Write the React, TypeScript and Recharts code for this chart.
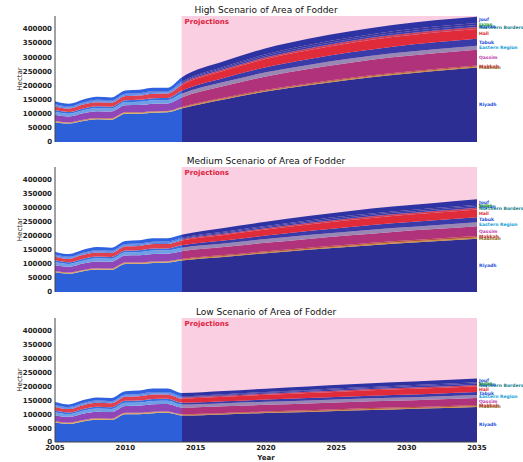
import React from 'react'
import { AreaChart, Area, XAxis, YAxis, ReferenceArea, ReferenceDot } from 'recharts'

const histYears = [2005, 2006, 2007, 2008, 2009, 2010, 2011, 2012, 2013]
const projYears = [2014, 2017, 2020, 2023, 2026, 2029, 2032, 2035]
const projectionStart = 2014
const xTicks = [2005, 2010, 2015, 2020, 2025, 2030, 2035]
const yTicks = [0, 50000, 100000, 150000, 200000, 250000, 300000, 350000, 400000]

// bottom of the stack first
const regions = ['Riyadh', 'Madinah', 'Makkah', 'Qassim', 'Eastern Region', 'Tabuk', 'Hail', 'Northern Borders', 'Najran', 'Jazan', 'Jouf']

const history: Record<string, number[]> = {
  Riyadh: [70000, 65000, 74000, 80000, 79000, 100000, 100000, 103500, 104700],
  Madinah: [2200, 2100, 2300, 2400, 2400, 2500, 2500, 2600, 2600],
  Makkah: [2200, 2100, 2300, 2400, 2300, 2500, 2500, 2600, 2600],
  Qassim: [22000, 21000, 23000, 24000, 23600, 24600, 25400, 26500, 26100],
  'Eastern Region': [10300, 9800, 10700, 11200, 11000, 11500, 11800, 12300, 12200],
  Tabuk: [5900, 5600, 6100, 6400, 6300, 6600, 6800, 7100, 7000],
  Hail: [13200, 12600, 13800, 14400, 14100, 14800, 15200, 15900, 15700],
  'Northern Borders': [2900, 2800, 3100, 3200, 3100, 3300, 3400, 3500, 3500],
  Najran: [2200, 2100, 2300, 2400, 2400, 2400, 2500, 2600, 2600],
  Jazan: [2200, 2100, 2300, 2400, 2400, 2400, 2500, 2600, 2600],
  Jouf: [10400, 9800, 10600, 11200, 11000, 11400, 12000, 12500, 12100],
}

const highProjection: Record<string, number[]> = {
  Riyadh: [118000, 150000, 178000, 200000, 220000, 237000, 251000, 263000],
  Madinah: [3000, 3200, 3300, 3400, 3400, 3500, 3500, 3500],
  Makkah: [3000, 3200, 3300, 3400, 3400, 3500, 3500, 3500],
  Qassim: [33000, 41000, 47000, 51000, 53500, 55000, 55800, 56000],
  'Eastern Region': [13500, 14500, 14500, 14300, 14200, 14100, 14000, 14000],
  Tabuk: [10500, 14500, 18000, 20500, 22300, 23500, 24200, 24500],
  Hail: [20000, 25000, 29000, 31500, 33000, 34000, 34800, 35000],
  'Northern Borders': [4400, 5300, 6000, 6400, 6700, 6900, 7000, 7000],
  Najran: [3600, 4600, 5500, 6100, 6500, 6800, 7000, 7000],
  Jazan: [3600, 4600, 5500, 6100, 6500, 6800, 7000, 7000],
  Jouf: [15400, 19100, 21000, 21800, 22000, 22100, 22200, 22200],
}

const mediumProjection: Record<string, number[]> = {
  Riyadh: [112000, 125000, 138000, 150000, 161000, 172000, 181000, 190000],
  Madinah: [2800, 3000, 3300, 3500, 3700, 3800, 3900, 4000],
  Makkah: [2900, 3300, 3700, 4100, 4400, 4600, 4800, 5000],
  Qassim: [27000, 28500, 30000, 31500, 32800, 33600, 34300, 35000],
  'Eastern Region': [12800, 13000, 13300, 13500, 13700, 13800, 13900, 14000],
  Tabuk: [8500, 10500, 12500, 14200, 15700, 16600, 17300, 18000],
  Hail: [17000, 19500, 21500, 23500, 25300, 26300, 27200, 28000],
  'Northern Borders': [3800, 4300, 4800, 5200, 5500, 5700, 5900, 6000],
  Najran: [3000, 3700, 4300, 4900, 5300, 5600, 5800, 6000],
  Jazan: [2900, 3400, 3900, 4300, 4600, 4800, 4900, 5000],
  Jouf: [11300, 13800, 14700, 15500, 16300, 17200, 18100, 19000],
}

const lowProjection: Record<string, number[]> = {
  Riyadh: [95000, 99000, 104000, 108000, 113000, 117000, 121000, 126000],
  Madinah: [2400, 2500, 2600, 2700, 2800, 2900, 3000, 3000],
  Makkah: [2500, 2700, 2900, 3200, 3400, 3600, 3800, 4000],
  Qassim: [23500, 23800, 24000, 24300, 24500, 24700, 24900, 25000],
  'Eastern Region': [11000, 11000, 11000, 10900, 10800, 10700, 10600, 10500],
  Tabuk: [6800, 7400, 8000, 8700, 9200, 9700, 10100, 10500],
  Hail: [15000, 15800, 16700, 17800, 18700, 19700, 20400, 21000],
  'Northern Borders': [3400, 3700, 4000, 4300, 4500, 4700, 4900, 5000],
  Najran: [2700, 3000, 3400, 3800, 4200, 4600, 4800, 5000],
  Jazan: [2500, 2800, 3000, 3300, 3500, 3700, 3900, 4000],
  Jouf: [11200, 11400, 11700, 12100, 12600, 13100, 13600, 14000],
}

const histColors: Record<string, string> = {
  Riyadh: '#2d5fd9',
  Madinah: '#d8a848',
  Makkah: '#c8703c',
  Qassim: '#9046b6',
  'Eastern Region': '#6fa0e6',
  Tabuk: '#3a6ee0',
  Hail: '#e0404e',
  'Northern Borders': '#5a82dc',
  Najran: '#4070e0',
  Jazan: '#3a68dc',
  Jouf: '#2f62e0',
}

const projColors: Record<string, string> = {
  Riyadh: '#2c2e94',
  Madinah: '#c89040',
  Makkah: '#b8523a',
  Qassim: '#b0327a',
  'Eastern Region': '#9a88b4',
  Tabuk: '#3a3aa8',
  Hail: '#e02c3a',
  'Northern Borders': '#c8405c',
  Najran: '#3c3cac',
  Jazan: '#34369e',
  Jouf: '#2e33a4',
}

const labelColors: Record<string, string> = {
  Riyadh: '#1f4fd8',
  Madinah: '#8a6a20',
  Makkah: '#c03a3a',
  Qassim: '#c040b0',
  'Eastern Region': '#17a0d8',
  Tabuk: '#1f4fd8',
  Hail: '#e02020',
  'Northern Borders': '#1a7f8a',
  Najran: '#2050c0',
  Jazan: '#2ca02c',
  Jouf: '#1f4fd8',
}

function buildRows(projection: Record<string, number[]>) {
  const rows: any[] = []
  histYears.forEach((year, i) => {
    const row: any = { year }
    regions.forEach((r) => (row[r] = history[r][i]))
    rows.push(row)
  })
  projYears.forEach((year, i) => {
    const row: any = { year }
    regions.forEach((r) => (row[r] = projection[r][i]))
    rows.push(row)
  })
  return rows
}

interface ScenarioChartProps {
  id: string
  title: string
  projection: Record<string, number[]>
  top: number
  height: number
  bottom: number
  showYears: boolean
}

function ScenarioChart({ id, title, projection, top, height, bottom, showYears }: ScenarioChartProps) {
  const data = buildRows(projection)
  const last = data[data.length - 1]
  const split = (projectionStart - xTicks[0]) / (xTicks[xTicks.length - 1] - xTicks[0])

  // label each layer in the middle of its 2035 band
  let cum = 0
  const labels = regions.map((r) => {
    const mid = cum + last[r] / 2
    cum += last[r]
    return { r, mid }
  })

  const plotTop = 16

  return (
    <div style={{ position: 'absolute', left: 0, top, width: 523, height }}>
      <div
        style={{
          position: 'absolute',
          left: 55,
          width: 422,
          top: plotTop - 11,
          height: 10,
          lineHeight: '10px',
          textAlign: 'center',
          fontSize: 9,
          color: '#111',
        }}
      >
        {title}
      </div>
      <AreaChart width={523} height={height} data={data} margin={{ top: plotTop, right: 46, left: 0, bottom }}>
        <defs>
          {regions.map((r, i) => (
            <linearGradient key={r} id={`${id}-g${i}`} x1="0" y1="0" x2="1" y2="0">
              <stop offset={split} stopColor={histColors[r]} />
              <stop offset={split} stopColor={projColors[r]} />
            </linearGradient>
          ))}
        </defs>
        <XAxis
          dataKey="year"
          type="number"
          domain={[2005, 2035]}
          ticks={xTicks}
          height={showYears ? 20 : 0}
          tick={showYears ? { fontSize: 7, fontWeight: 'bold', fill: '#222' } : false}
          tickSize={0}
          tickMargin={3}
          axisLine={{ stroke: '#444' }}
          label={showYears ? { value: 'Year', position: 'insideBottom', offset: 2, fontSize: 7, fontWeight: 'bold', fill: '#222' } : undefined}
        />
        <XAxis xAxisId="t" orientation="top" type="number" domain={[2005, 2035]} height={0} tick={false} tickLine={false} axisLine={{ stroke: '#888' }} />
        <YAxis
          type="number"
          domain={[0, 445000]}
          ticks={yTicks}
          width={55}
          tickSize={0}
          tickMargin={3}
          tick={{ fontSize: 7, fontWeight: 'bold', fill: '#222' }}
          axisLine={{ stroke: '#444' }}
          allowDataOverflow
          label={{ value: 'Hectar', angle: -90, position: 'center', dx: -8, fontSize: 7, fill: '#222' }}
        />
        <YAxis yAxisId="r" orientation="right" width={0} tick={false} tickLine={false} axisLine={{ stroke: '#666' }} />
        <ReferenceArea
          x1={projectionStart}
          x2={2035}
          fill="#f9cfe1"
          fillOpacity={1}
          stroke="none"
          label={{ value: 'Projections', position: 'insideTopLeft', offset: 3, fill: '#e0203c', fontSize: 7, fontWeight: 'bold' }}
        />
        {regions.map((r, i) => (
          <Area
            key={r}
            dataKey={r}
            stackId="s"
            type="monotone"
            fill={`url(#${id}-g${i})`}
            fillOpacity={1}
            stroke="none"
            isAnimationActive={false}
          />
        ))}
        {labels.map(({ r, mid }) => (
          <ReferenceDot
            key={r}
            x={2035}
            y={mid}
            r={0}
            fill="none"
            stroke="none"
            ifOverflow="visible"
            label={{ value: r, position: 'right', offset: 2, fill: labelColors[r], fontSize: 4.5, fontWeight: 'bold' }}
          />
        ))}
      </AreaChart>
    </div>
  )
}

export default function App() {
  return (
    <div style={{ position: 'absolute', left: 0, top: 0, width: 523, height: 462, background: '#fff', fontFamily: 'DejaVu Sans' }}>
      <ScenarioChart id="high" title="High Scenario of Area of Fodder" projection={highProjection} top={0} height={150} bottom={8} showYears={false} />
      <ScenarioChart id="med" title="Medium Scenario of Area of Fodder" projection={mediumProjection} top={151} height={150} bottom={9} showYears={false} />
      <ScenarioChart id="low" title="Low Scenario of Area of Fodder" projection={lowProjection} top={302} height={160} bottom={0} showYears />
    </div>
  )
}
